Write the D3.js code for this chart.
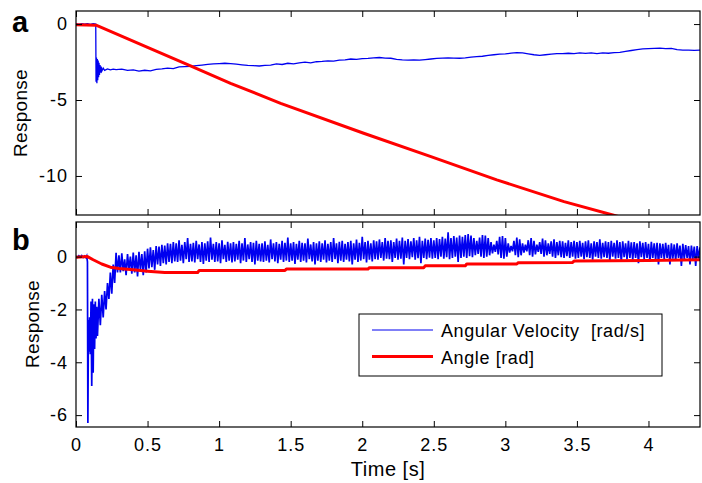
<!DOCTYPE html>
<html>
<head>
<meta charset="utf-8">
<script src="https://cdn.jsdelivr.net/npm/d3@7"></script>
<style>
  body { margin: 0; background: #fff; }
  svg { display: block; font-family: "Liberation Sans", Arial, sans-serif; }
</style>
</head>
<body>
<svg width="702" height="483"></svg>
<script>
// tick values and labels
var timeTicks = [0, 0.5, 1, 1.5, 2, 2.5, 3, 3.5, 4];
var timeTickLabels = ["0", "0.5", "1", "1.5", "2", "2.5", "3", "3.5", "4"];
var respTicksA = [0, -5, -10];
var respTickLabelsA = ["0", "-5", "-10"];
var respTicksB = [0, -2, -4, -6];
var respTickLabelsB = ["0", "-2", "-4", "-6"];
var legendLabels = ["Angular Velocity  [rad/s]", "Angle [rad]"];

// panel a : angular velocity, start as [t, v], tail sampled every 0.04 s from 0.28 s
var angVelAStart = [[0,0.02],[0.02,-0.02],[0.04,0.03],[0.06,-0.01],[0.08,0.02],[0.1,-0.02],[0.12,0.02],[0.138,0.0],
  [0.14,-3.8],[0.143,-2.2],[0.146,-3.9],[0.149,-2.3],[0.152,-3.7],[0.155,-2.4],[0.158,-3.5],[0.161,-2.55],
  [0.164,-3.35],[0.168,-2.7],[0.172,-3.2],[0.176,-2.8],[0.18,-3.1],[0.19,-2.9],[0.2,-3.05],[0.22,-2.95],
  [0.24,-3.02],[0.26,-2.97]];
var angVelATailStart = 0.28, angVelATailStep = 0.04;
var angVelATail = [
  -3.00,-2.97,-3.05,-3.02,-3.10,-3.04,-3.08,-2.98,-2.95,-2.90,-2.93,-2.82,-2.80,-2.78,-2.74,-2.70,-2.66,-2.62,-2.60,-2.58,
  -2.60,-2.64,-2.68,-2.72,-2.74,-2.76,-2.72,-2.70,-2.62,-2.66,-2.58,-2.62,-2.55,-2.50,-2.56,-2.48,-2.46,-2.42,-2.44,-2.38,
  -2.36,-2.30,-2.32,-2.28,-2.26,-2.22,-2.20,-2.24,-2.25,-2.32,-2.36,-2.38,-2.36,-2.38,-2.34,-2.30,-2.26,-2.24,-2.22,-2.24,
  -2.25,-2.22,-2.18,-2.14,-2.12,-2.06,-2.02,-1.98,-1.96,-1.92,-1.88,-1.90,-1.96,-2.02,-2.06,-2.02,-1.98,-1.94,-1.95,-1.92,
  -1.95,-1.90,-1.93,-1.90,-1.94,-1.90,-1.92,-1.88,-1.86,-1.80,-1.74,-1.68,-1.64,-1.62,-1.60,-1.58,-1.62,-1.60,-1.68,-1.72,
  -1.72,-1.73,-1.72];

// panel a : angle [t, v]
var angleA = [[0,-0.05],[0.14,-0.07],[0.5,-1.53],[0.8,-2.76],[1.08,-3.9],[1.43,-5.22],[2.01,-7.19],
  [2.48,-8.73],[2.94,-10.26],[3.41,-11.69],[3.75,-12.57],[3.9,-12.95]];

// panel b : angular velocity, start as [t, v], tail sampled every 0.01 s from 0.30 s
var angVelBStart = [[0,0.02],[0.01,-0.03],[0.02,0.03],[0.03,-0.02],[0.04,0.04],[0.05,-0.03],[0.06,0.02],[0.07,-0.04],
  [0.075,0.02],[0.08,-0.2],[0.083,-6.3],[0.087,-2.4],[0.09,-3.6],[0.095,-2.3],[0.1,-3.7],[0.105,-1.7],[0.11,-4.9],
  [0.115,-1.6],[0.12,-4.4],[0.125,-1.8],[0.13,-3.5],[0.135,-1.7],[0.14,-3.1],[0.145,-1.9],[0.15,-3.0],[0.16,-1.6],
  [0.17,-2.6],[0.18,-1.45],[0.19,-2.3],[0.2,-1.3],[0.21,-2.0],[0.22,-1.0],[0.23,-1.6],[0.24,-0.6],[0.25,-1.4],
  [0.26,-0.3],[0.27,-1.0],[0.28,0.14],[0.29,-0.6]];
var angVelBTailStart = 0.30, angVelBTailStep = 0.01;
var angVelBTail = [
  0.05,-0.6,0.12,-0.55,-0.1,-0.7,0.1,-0.5,0.0,-0.65,0.15,-0.6,0.05,-0.75,0.18,-0.5,0.1,-0.7,0.2,-0.6,
  0.3,-0.45,0.35,-0.4,0.25,-0.5,0.4,-0.3,0.38,-0.35,0.45,-0.25,0.42,-0.3,0.5,-0.2,0.48,-0.25,0.55,-0.18,
  0.5,-0.2,0.62,-0.15,0.45,-0.25,0.55,-0.1,0.7,-0.2,0.48,-0.18,0.52,-0.22,0.6,-0.1,0.46,-0.2,0.55,-0.28,
  0.5,-0.15,0.58,-0.2,0.72,-0.12,0.48,-0.2,0.55,-0.18,0.5,-0.25,0.62,-0.1,0.45,-0.2,0.56,-0.15,0.5,-0.22,
  0.55,-0.18,0.48,-0.12,0.6,-0.25,0.5,-0.15,0.7,-0.2,0.46,-0.1,0.55,-0.2,0.52,-0.3,0.6,-0.15,0.48,-0.18,
  0.5,-0.2,0.58,-0.15,0.45,-0.22,0.65,-0.1,0.5,-0.18,0.55,-0.25,0.48,-0.12,0.6,-0.2,0.52,-0.15,0.72,-0.2,
  0.5,-0.15,0.55,-0.28,0.48,-0.12,0.6,-0.2,0.52,-0.15,0.5,-0.22,0.68,-0.1,0.46,-0.18,0.55,-0.3,0.5,-0.15,
  0.58,-0.2,0.5,-0.12,0.62,-0.22,0.48,-0.15,0.55,-0.2,0.7,-0.1,0.5,-0.25,0.56,-0.15,0.6,-0.2,0.48,-0.12,
  0.55,-0.18,0.6,-0.3,0.5,-0.12,0.65,-0.2,0.52,-0.15,0.75,-0.1,0.55,-0.22,0.6,-0.12,0.5,-0.18,0.62,-0.1,
  0.58,-0.12,0.65,-0.05,0.55,-0.15,0.7,-0.08,0.6,-0.1,0.62,-0.2,0.55,-0.05,0.68,-0.12,0.6,-0.08,0.72,-0.3,
  0.6,-0.05,0.66,-0.1,0.58,-0.02,0.7,-0.12,0.62,-0.06,0.75,-0.25,0.6,-0.05,0.68,-0.1,0.64,-0.04,0.7,-0.08,
  0.62,-0.05,0.7,-0.1,0.66,0.0,0.75,-0.08,0.68,-0.02,0.92,-0.1,0.7,-0.05,0.78,0.0,0.72,-0.2,0.8,-0.05,
  0.75,0.0,0.82,-0.05,0.85,0.02,0.8,-0.02,0.7,0.05,0.6,0.1,0.72,0.0,0.82,-0.05,0.8,0.0,0.7,0.05,
  0.55,0.12,0.45,0.18,0.6,0.08,0.75,-0.05,0.78,-0.08,0.7,0.0,0.5,0.15,0.4,0.2,0.6,0.05,0.72,-0.02,
  0.65,0.05,0.5,0.15,0.45,0.2,0.62,0.05,0.7,0.0,0.6,0.08,0.45,0.18,0.55,0.1,0.68,0.0,0.62,0.05,
  0.5,0.1,0.58,0.0,0.65,-0.05,0.55,0.05,0.6,-0.02,0.58,-0.05,0.52,0.02,0.62,-0.05,0.55,0.0,0.6,-0.08,
  0.55,-0.05,0.6,0.0,0.52,-0.1,0.58,-0.02,0.62,-0.05,0.5,-0.12,0.58,0.0,0.55,-0.05,0.65,-0.08,0.52,-0.02,
  0.58,-0.05,0.55,-0.15,0.6,0.0,0.52,-0.08,0.62,-0.05,0.55,-0.2,0.58,-0.02,0.5,-0.1,0.6,-0.05,0.54,-0.12,
  0.55,-0.05,0.5,-0.25,0.58,-0.02,0.52,-0.1,0.55,-0.05,0.48,-0.2,0.56,-0.05,0.5,-0.12,0.52,-0.3,0.5,-0.05,
  0.48,-0.1,0.52,-0.05,0.45,-0.3,0.5,-0.08,0.46,-0.15,0.5,-0.05,0.42,-0.35,0.48,-0.1,0.44,-0.05,0.4,-0.3,
  0.42,-0.1,0.38,-0.35,0.4,-0.08,0.35];

// panel b : angle [t, v]
var angleB = [[0,-0.02],[0.08,0.0],[0.12,-0.12],[0.18,-0.28],[0.24,-0.4],[0.3,-0.45],[0.4,-0.5],[0.5,-0.55],
  [0.62,-0.6],[0.85,-0.6],[0.86,-0.53],[1.46,-0.53],[1.47,-0.47],[2.04,-0.47],[2.05,-0.42],[2.43,-0.42],
  [2.44,-0.35],[2.72,-0.35],[2.73,-0.28],[3.08,-0.28],[3.09,-0.23],[3.47,-0.22],[3.48,-0.17],[4.0,-0.15],[4.36,-0.12]];

var svg = d3.select("svg");
var left = 76, right = 700;

var x = d3.scaleLinear().domain([0, 4.36]).range([left, right]);
var yA = d3.scaleLinear().domain([-12.57, 0.86]).range([215, 11]);
var yB = d3.scaleLinear().domain([-6.45, 1.31]).range([427, 222]);

function withTail(start, t0, step, tail) {
  return start.concat(tail.map(function(v, i) { return [t0 + i * step, v]; }));
}
var velA = withTail(angVelAStart, angVelATailStart, angVelATailStep, angVelATail);
var velB = withTail(angVelBStart, angVelBTailStart, angVelBTailStep, angVelBTail);

var blue = "#0000f0", red = "#ff0000";

function panel(id, y, ticks, tickLabels, vel, ang, showX, velWidth) {
  var top = y.range()[1], bottom = y.range()[0];
  var g = svg.append("g");

  g.append("clipPath").attr("id", id)
    .append("rect").attr("x", left).attr("y", top).attr("width", right - left).attr("height", bottom - top);

  var line = d3.line().x(function(d) { return x(d[0]); }).y(function(d) { return y(d[1]); });
  var plot = g.append("g").attr("clip-path", "url(#" + id + ")");
  plot.append("path").datum(vel).attr("d", line)
    .attr("fill", "none").attr("stroke", blue).attr("stroke-width", velWidth);
  plot.append("path").datum(ang).attr("d", line)
    .attr("fill", "none").attr("stroke", red).attr("stroke-width", 3).attr("stroke-linejoin", "round");

  // ticks on all four sides, pointing inward
  var xb = g.append("g").attr("transform", "translate(0," + bottom + ")")
    .call(d3.axisBottom(x).tickValues(timeTicks).tickSize(-6).tickPadding(11)
      .tickFormat(function(d, i) { return showX ? timeTickLabels[i] : ""; }));
  var xt = g.append("g").attr("transform", "translate(0," + top + ")")
    .call(d3.axisTop(x).tickValues(timeTicks).tickSize(-6).tickFormat(""));
  var yl = g.append("g").attr("transform", "translate(" + left + ",0)")
    .call(d3.axisLeft(y).tickValues(ticks).tickSize(-6).tickPadding(8)
      .tickFormat(function(d, i) { return tickLabels[i]; }));
  var yr = g.append("g").attr("transform", "translate(" + right + ",0)")
    .call(d3.axisRight(y).tickValues(ticks).tickSize(-6).tickFormat(""));

  [xb, xt, yl, yr].forEach(function(a) {
    a.select(".domain").remove();
    a.selectAll("line").attr("stroke", "#000");
    a.selectAll("text").attr("fill", "#000").style("font-size", "18px")
      .style("font-family", "'Liberation Sans', Arial, sans-serif").style("letter-spacing", "1px");
  });

  g.append("rect").attr("x", left).attr("y", top).attr("width", right - left).attr("height", bottom - top)
    .attr("fill", "none").attr("stroke", "#000").attr("stroke-width", 1.2);
  return g;
}

panel("clipA", yA, respTicksA, respTickLabelsA, velA, angleA, false, 1.3);
panel("clipB", yB, respTicksB, respTickLabelsB, velB, angleB, true, 1.7);

// panel letters
svg.append("text").attr("x", 12).attr("y", 32).text("a")
  .style("font-size", "29px").style("font-weight", "bold");
svg.append("text").attr("x", 12).attr("y", 250).text("b")
  .style("font-size", "29px").style("font-weight", "bold");

// y labels
svg.append("text").attr("transform", "translate(27,113) rotate(-90)")
  .attr("text-anchor", "middle").style("font-size", "19px").style("letter-spacing", "0.3px").text("Response");
svg.append("text").attr("transform", "translate(39,324) rotate(-90)")
  .attr("text-anchor", "middle").style("font-size", "19px").style("letter-spacing", "0.3px").text("Response");

// x label
svg.append("text").attr("x", (left + right) / 2).attr("y", 476).attr("text-anchor", "middle")
  .style("font-size", "20px").style("letter-spacing", "0.5px").text("Time [s]");

// legend
var legend = svg.append("g");
legend.append("rect").attr("x", 359).attr("y", 314).attr("width", 303).attr("height", 62)
  .attr("fill", "#fff").attr("stroke", "#000").attr("stroke-width", 1);
var legendColors = [blue, red], legendWidths = [1, 3], legendY = [330, 356.5];
legendLabels.forEach(function(lbl, i) {
  legend.append("line").attr("x1", 372).attr("x2", 433).attr("y1", legendY[i]).attr("y2", legendY[i])
    .attr("stroke", legendColors[i]).attr("stroke-width", legendWidths[i]);
  legend.append("text").attr("x", 441).attr("y", legendY[i] + 7).style("font-size", "18px")
    .style("letter-spacing", "0.6px").style("white-space", "pre").text(lbl);
});
</script>
</body>
</html>
